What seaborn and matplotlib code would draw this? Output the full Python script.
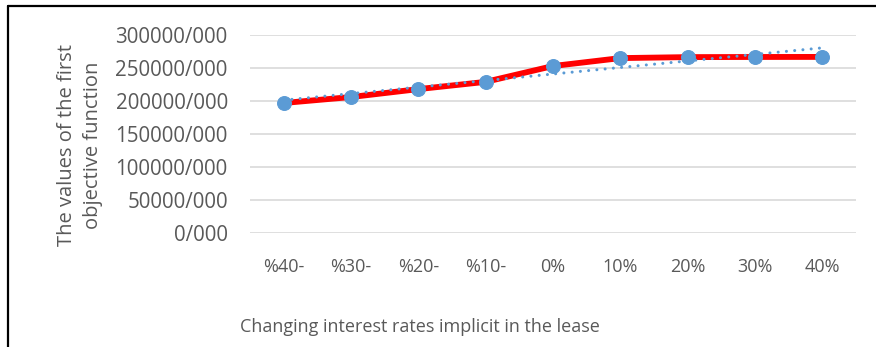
import matplotlib
matplotlib.use("Agg")
import matplotlib.pyplot as plt
import seaborn as sns
import numpy as np
import pandas as pd
from matplotlib.lines import Line2D

# values
rates = ['%40-', '%30-', '%20-', '%10-', '0%', '10%', '20%', '30%', '40%']
objective = [197000, 206000, 218000, 229000, 253000, 265000, 266500, 266700, 266800]
y_ticks = [0, 50000, 100000, 150000, 200000, 250000, 300000]
y_tick_labels = ['0/000', '50000/000', '100000/000', '150000/000',
                 '200000/000', '250000/000', '300000/000']

df = pd.DataFrame({'pos': np.arange(len(rates)), 'rate': rates, 'value': objective})
# linear trendline like Excel's
coef = np.polyfit(df['pos'], df['value'], 1)
df['trend'] = np.polyval(coef, df['pos'])

sns.set_style("white")
plt.rcParams['font.family'] = ['Open Sans', 'DejaVu Sans']

fig = plt.figure(figsize=(8.76, 3.47), dpi=100)
ax = fig.add_axes([250 / 876, 114 / 347, 606 / 876, 198 / 347])

blue = '#5B9BD5'
sns.lineplot(data=df, x='pos', y='value', ax=ax, color='#FF0000', linewidth=4.2,
             marker='o', markersize=10, markerfacecolor=blue, markeredgecolor=blue,
             zorder=3)
sns.lineplot(data=df, x='pos', y='trend', ax=ax, color=blue, linewidth=2.2,
             linestyle=(0, (0.01, 2.7)), dash_capstyle='round', zorder=4)

ax.set_xlim(-0.5, len(rates) - 0.5)
ax.set_ylim(0, 300000)
ax.set_xticks(df['pos'])
ax.set_xticklabels(rates, fontsize=13)
ax.set_yticks(y_ticks)
ax.set_yticklabels(y_tick_labels, fontsize=14.8)
ax.tick_params(axis='both', length=0, labelcolor='#595959')
ax.tick_params(axis='x', pad=18)
ax.tick_params(axis='y', pad=16)
ax.grid(axis='y', color='#D9D9D9', linewidth=1.2)
ax.set_axisbelow(True)
for s in ax.spines.values():
    s.set_visible(False)
ax.set_xlabel('')
ax.set_ylabel('The values of the first\nobjective function', fontsize=14.5,
              color='#595959', linespacing=1.45)
ax.yaxis.set_label_coords(-0.242, 0.444)

fig.text(420 / 876, 20 / 347, 'Changing interest rates implicit in the lease',
         ha='center', va='center', fontsize=13, color='#595959')

# outer frame (only left and top edges are visible)
fig.add_artist(Line2D([8 / 876, 8 / 876], [0, 341 / 347], color='black', linewidth=1.6,
                      transform=fig.transFigure))
fig.add_artist(Line2D([8 / 876, 1], [341 / 347, 341 / 347], color='black', linewidth=1.6,
                      transform=fig.transFigure))

fig.savefig('out.png', dpi=100)
